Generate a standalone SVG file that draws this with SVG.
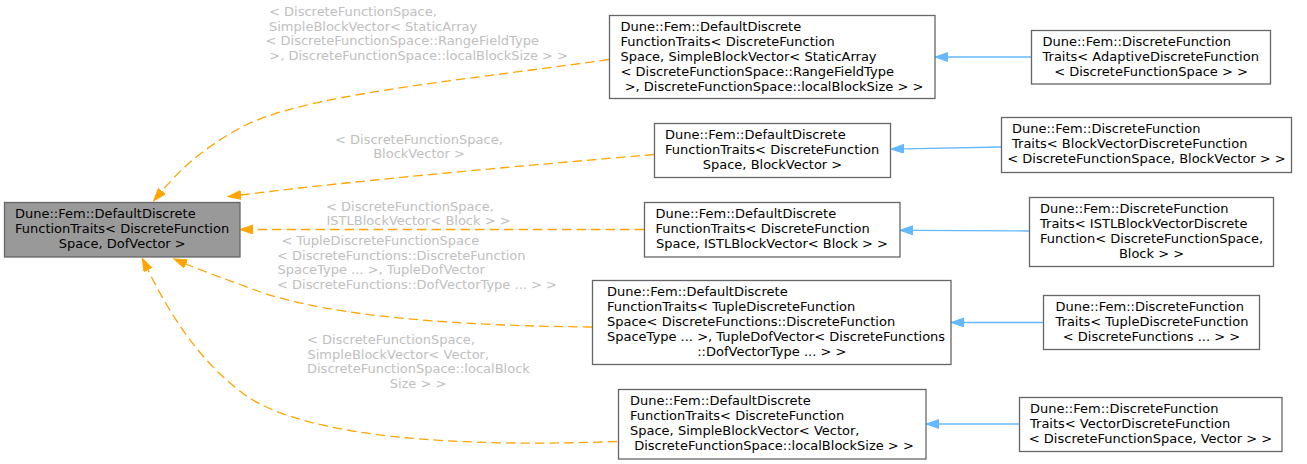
<svg xmlns="http://www.w3.org/2000/svg" width="1307" height="464" viewBox="0 0 1307 464">
<style>
text{font-family:"DejaVu Sans","Liberation Sans",sans-serif;font-size:13px;fill:#000}
.m{text-anchor:middle}
.lbl{fill:#c0c0c0}
.box{fill:#fff;stroke:#666;stroke-width:1.3}
.hl{fill:#999;stroke:#666;stroke-width:1.3}
.dep{fill:none;stroke:#ffa500;stroke-width:1.3;stroke-dasharray:9.5,5;marker-end:url(#ao)}
.inh{fill:none;stroke:#63b8ff;stroke-width:1.3;marker-end:url(#ab)}
</style>
<defs>
<marker id="ao" markerUnits="userSpaceOnUse" markerWidth="14" markerHeight="10" refX="0" refY="4.5" orient="auto"><path d="M0,0 L13,4.5 L0,9 z" fill="#ffa500" stroke="#ffa500" stroke-width="1"/></marker>
<marker id="ab" markerUnits="userSpaceOnUse" markerWidth="14" markerHeight="10" refX="0" refY="4.5" orient="auto"><path d="M0,0 L13,4.5 L0,9 z" fill="#63b8ff" stroke="#63b8ff" stroke-width="1"/></marker>
</defs>
<g id="connectors">
<path class="dep" d="M609,59.5 C450,82 300,95 240,128 C200,150 178,172 162,191"/>
<path class="dep" d="M654,154.5 C520,166 360,180 241,195"/>
<path class="dep" d="M644,229.5 L253,229.5"/>
<path class="dep" d="M592,327 C470,326 330,318 255,290 C220,277 200,270 186,264"/>
<path class="dep" d="M617,441.5 C470,447 310,440 245,395 C200,362 170,315 148,270"/>
<path class="inh" d="M1031,57 L948,57"/>
<path class="inh" d="M1001,147 L904,148.8"/>
<path class="inh" d="M1029,231 L913,230.3"/>
<path class="inh" d="M1043,322.5 L964,322.5"/>
<path class="inh" d="M1019,424 L939,424"/>
<g id="labels">
<text class="lbl" x="269" y="16">&lt; DiscreteFunctionSpace,</text>
<text class="lbl" x="269" y="30.7">SimpleBlockVector&lt; StaticArray</text>
<text class="lbl" x="265.5" y="45.3">&lt; DiscreteFunctionSpace::RangeFieldType</text>
<text class="lbl" x="269.3" y="60">&gt;, DiscreteFunctionSpace::localBlockSize &gt; &gt;</text>
<text class="lbl" x="335" y="143.5">&lt; DiscreteFunctionSpace,</text>
<text class="lbl m" x="419" y="158">BlockVector &gt;</text>
<text class="lbl" x="326" y="210.5">&lt; DiscreteFunctionSpace,</text>
<text class="lbl" x="326.5" y="225">ISTLBlockVector&lt; Block &gt; &gt;</text>
<text class="lbl" x="281.5" y="245">&lt; TupleDiscreteFunctionSpace</text>
<text class="lbl" x="277" y="259.5">&lt; DiscreteFunctions::DiscreteFunction</text>
<text class="lbl" x="277.5" y="274.2">SpaceType ... &gt;, TupleDofVector</text>
<text class="lbl" x="277" y="288.8">&lt; DiscreteFunctions::DofVectorType ... &gt; &gt;</text>
<text class="lbl" x="307" y="344">&lt; DiscreteFunctionSpace,</text>
<text class="lbl" x="307.5" y="358.5">SimpleBlockVector&lt; Vector,</text>
<text class="lbl" x="307" y="373">DiscreteFunctionSpace::localBlock</text>
<text class="lbl m" x="418" y="387.5">Size &gt; &gt;</text>
</g>
</g>
<g id="n0">
<rect class="hl" x="4.5" y="202.5" width="235.5" height="54.5"/>
<text x="15" y="218">Dune::Fem::DefaultDiscrete</text>
<text x="15" y="233">FunctionTraits&lt; DiscreteFunction</text>
<text class="m" x="122.3" y="248">Space, DofVector &gt;</text>
</g>
<g id="n1">
<rect class="box" x="609.5" y="15.5" width="325.5" height="83"/>
<text x="620.5" y="31">Dune::Fem::DefaultDiscrete</text>
<text x="620.5" y="46">FunctionTraits&lt; DiscreteFunction</text>
<text x="620.5" y="61">Space, SimpleBlockVector&lt; StaticArray</text>
<text x="620.5" y="76">&lt; DiscreteFunctionSpace::RangeFieldType</text>
<text class="m" x="774" y="91">&gt;, DiscreteFunctionSpace::localBlockSize &gt; &gt;</text>
</g>
<g id="n2">
<rect class="box" x="654.5" y="123.5" width="236" height="54"/>
<text x="665" y="139">Dune::Fem::DefaultDiscrete</text>
<text x="665" y="154">FunctionTraits&lt; DiscreteFunction</text>
<text class="m" x="772.5" y="169">Space, BlockVector &gt;</text>
</g>
<g id="n3">
<rect class="box" x="644.5" y="202.5" width="255.5" height="54.5"/>
<text x="655.5" y="218">Dune::Fem::DefaultDiscrete</text>
<text x="655.5" y="233">FunctionTraits&lt; DiscreteFunction</text>
<text class="m" x="772" y="248">Space, ISTLBlockVector&lt; Block &gt; &gt;</text>
</g>
<g id="n4">
<rect class="box" x="592.5" y="280.5" width="358.5" height="84"/>
<text x="607" y="296">Dune::Fem::DefaultDiscrete</text>
<text x="607" y="311">FunctionTraits&lt; TupleDiscreteFunction</text>
<text x="607" y="326">Space&lt; DiscreteFunctions::DiscreteFunction</text>
<text x="607" y="341">SpaceType ... &gt;, TupleDofVector&lt; DiscreteFunctions</text>
<text class="m" x="771.8" y="356">::DofVectorType ... &gt; &gt;</text>
</g>
<g id="n5">
<rect class="box" x="618.5" y="389.5" width="307.5" height="69.5"/>
<text x="630" y="405">Dune::Fem::DefaultDiscrete</text>
<text x="630" y="420">FunctionTraits&lt; DiscreteFunction</text>
<text x="630" y="435">Space, SimpleBlockVector&lt; Vector,</text>
<text class="m" x="774" y="450">DiscreteFunctionSpace::localBlockSize &gt; &gt;</text>
</g>
<g id="r1">
<rect class="box" x="1031.5" y="30.5" width="239" height="53.5"/>
<text x="1042.5" y="46">Dune::Fem::DiscreteFunction</text>
<text x="1042.5" y="61">Traits&lt; AdaptiveDiscreteFunction</text>
<text class="m" x="1151" y="76">&lt; DiscreteFunctionSpace &gt; &gt;</text>
</g>
<g id="r2">
<rect class="box" x="1001.5" y="117.5" width="290" height="55"/>
<text x="1012" y="133">Dune::Fem::DiscreteFunction</text>
<text x="1012" y="148">Traits&lt; BlockVectorDiscreteFunction</text>
<text class="m" x="1146.5" y="163">&lt; DiscreteFunctionSpace, BlockVector &gt; &gt;</text>
</g>
<g id="r3">
<rect class="box" x="1029.5" y="197.5" width="244" height="69"/>
<text x="1040" y="213">Dune::Fem::DiscreteFunction</text>
<text x="1040" y="228">Traits&lt; ISTLBlockVectorDiscrete</text>
<text x="1040" y="243">Function&lt; DiscreteFunctionSpace,</text>
<text class="m" x="1151.5" y="258">Block &gt; &gt;</text>
</g>
<g id="r4">
<rect class="box" x="1043.5" y="295.5" width="216" height="54"/>
<text x="1055.5" y="311">Dune::Fem::DiscreteFunction</text>
<text x="1055.5" y="326">Traits&lt; TupleDiscreteFunction</text>
<text class="m" x="1151.5" y="341">&lt; DiscreteFunctions ... &gt; &gt;</text>
</g>
<g id="r5">
<rect class="box" x="1019.5" y="397.5" width="262.5" height="54"/>
<text x="1030" y="413">Dune::Fem::DiscreteFunction</text>
<text x="1030" y="428">Traits&lt; VectorDiscreteFunction</text>
<text class="m" x="1150.5" y="443">&lt; DiscreteFunctionSpace, Vector &gt; &gt;</text>
</g>
</svg>
